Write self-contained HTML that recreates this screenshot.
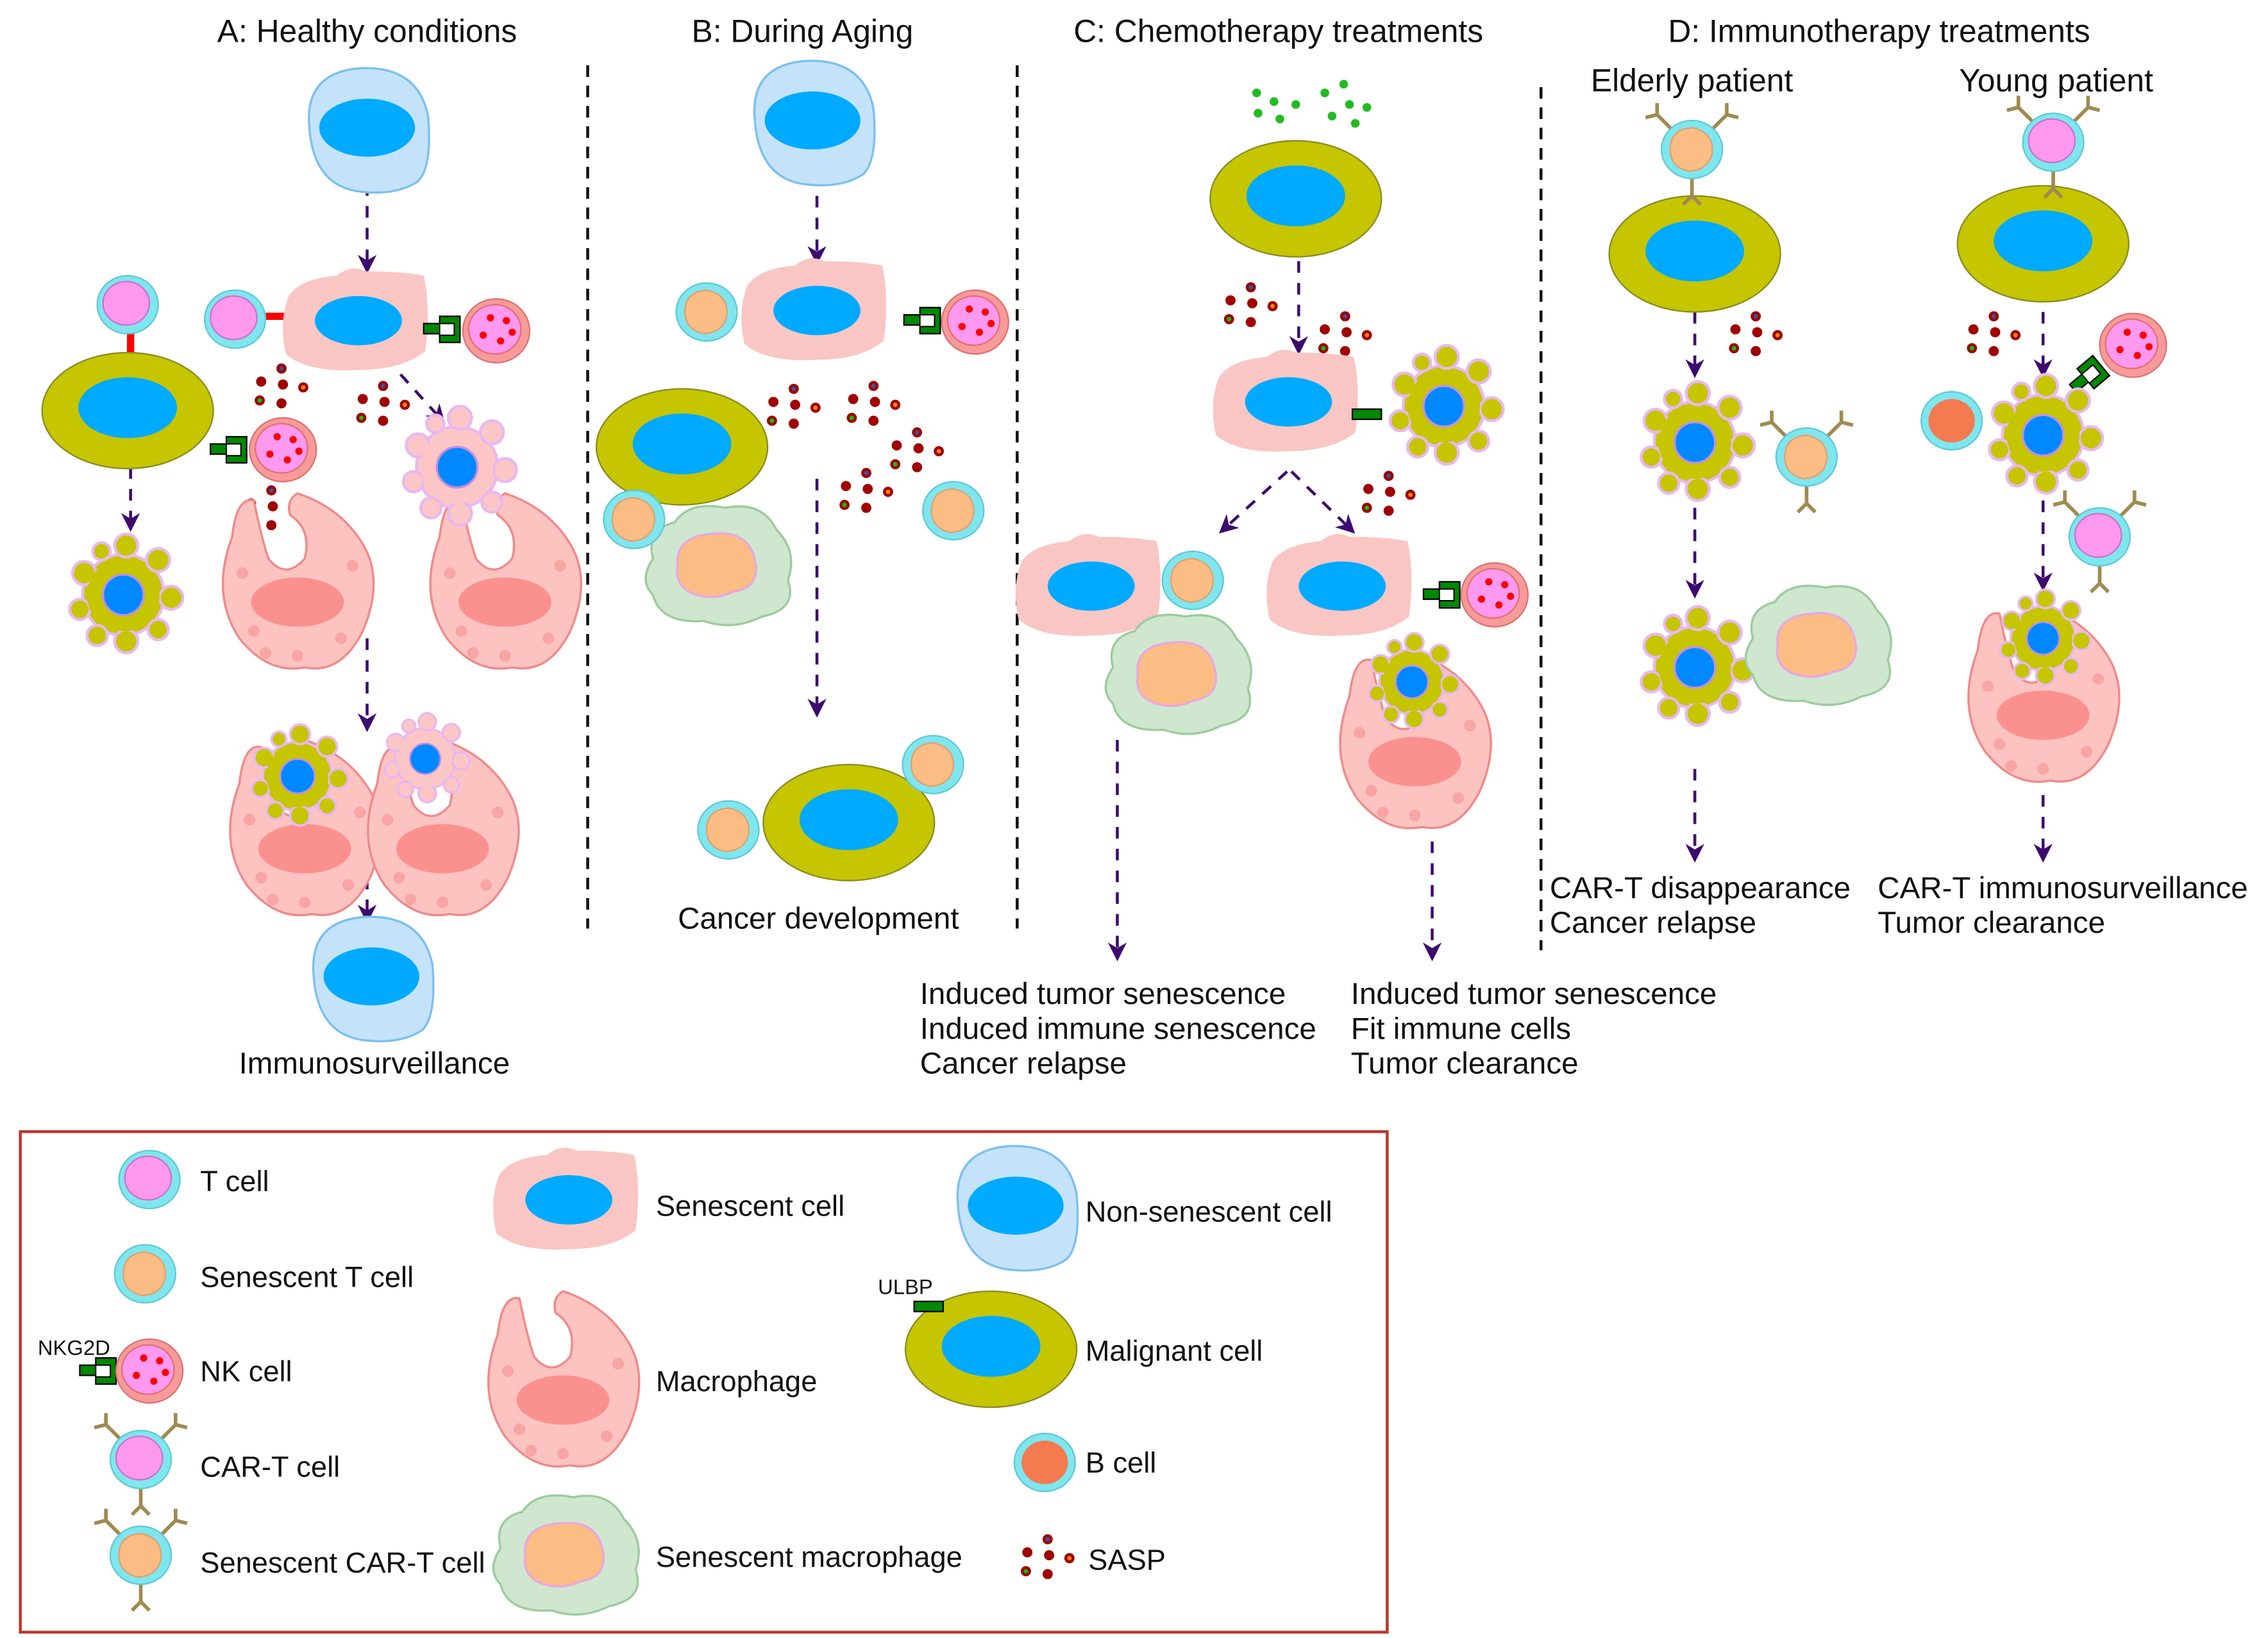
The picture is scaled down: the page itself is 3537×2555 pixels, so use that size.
<!DOCTYPE html>
<html><head><meta charset="utf-8"><style>
html,body{margin:0;padding:0;background:#fff}
svg{display:block}
text{font-family:"Liberation Sans",sans-serif;fill:#111}
</style></head><body>
<svg width="3537" height="2555" viewBox="0 0 1563 1129" xmlns="http://www.w3.org/2000/svg">
<defs>
<marker id="ah" viewBox="0 0 10 10" refX="8" refY="5" markerWidth="18" markerHeight="13" orient="auto" markerUnits="userSpaceOnUse"><path d="M0,0 L10,5 L0,10 L3,5 Z" fill="#3d0a6e"/></marker>
<g id="nonsen"><path d="M-40,-5 Q-42,-40 -5,-43 Q35,-45 42,-10 Q45,25 35,35 Q20,45 -5,42 Q-38,38 -40,-5Z" fill="#c4e3fb" stroke="#7cc0f0" stroke-width="1.5"/><ellipse cx="0" cy="-2" rx="33" ry="20" fill="#00aaff"/></g>
<g id="malig"><ellipse rx="59" ry="40" fill="#c5c500" stroke="#8a8a20" stroke-width="1"/><ellipse cx="0" cy="-2" rx="34" ry="21" fill="#00aaff"/></g>
<g id="sen"><path d="M-48,-18 Q-40,-30 -15,-32 Q-5,-40 5,-35 Q30,-35 45,-32 Q50,-10 46,20 Q30,33 0,33 Q-35,35 -50,22 Q-55,0 -48,-18Z" fill="#f9c6c3"/><ellipse cx="0" cy="-1" rx="30" ry="17" fill="#00aaff"/></g>
<g id="tc"><ellipse rx="21" ry="20" fill="#7fe6ee" stroke="#5fc8d8"/><ellipse cx="-1" cy="-1" rx="16" ry="15" fill="#ff99f0" stroke="#d070c8"/></g>
<g id="st"><ellipse rx="21" ry="20" fill="#7fe6ee" stroke="#5fc8d8"/><path d="M-15,0 Q-15,-14 0,-15 Q15,-12 14,2 Q12,14 -2,15 Q-15,12 -15,0Z" fill="#fbbd84" stroke="#e0a070"/></g>
<g id="bc"><ellipse rx="21" ry="20" fill="#7fe6ee" stroke="#5fc8d8"/><ellipse cx="0" cy="0" rx="16" ry="15" fill="#f47a50"/></g>
<g id="nk"><ellipse rx="23" ry="22" fill="#f79a9a" stroke="#e07070"/><ellipse cx="-1" cy="-1" rx="18" ry="17" fill="#ff99f0" stroke="#e07070"/><circle cx="-4" cy="-9" r="2.5" fill="#f00"/><circle cx="7" cy="-7" r="2.5" fill="#f00"/><circle cx="11" cy="1" r="2.5" fill="#f00"/><circle cx="-9" cy="3" r="2.5" fill="#f00"/><circle cx="3" cy="7" r="2.5" fill="#f00"/></g>
<g id="rec"><rect x="-25" y="-4" width="12" height="7" fill="#008800" stroke="#000" stroke-width="1"/><path d="M-14,-9 H0 V9 H-14 V4 H-4 V-4 H-14Z" fill="#008800" stroke="#000" stroke-width="1"/><rect x="-14" y="-4" width="10" height="8" fill="#fff" stroke="#000" stroke-width=".8"/></g>
<g id="apo"><g fill="#c5c500" stroke="#e8b8f0" stroke-width="2"><circle r="28"/><circle cx="-27" cy="-15" r="8"/><circle cx="-30" cy="10" r="7"/><circle cx="-18" cy="28" r="7"/><circle cx="2" cy="32" r="8"/><circle cx="24" cy="24" r="7"/><circle cx="33" cy="2" r="8"/><circle cx="24" cy="-24" r="8"/><circle cx="2" cy="-34" r="8"/><circle cx="-15" cy="-30" r="6"/></g><circle r="25" fill="#c5c500"/><circle r="14" fill="#0088ff" stroke="#c090e0" stroke-width="1.5"/></g>
<g id="apop"><g fill="#fcc6c6" stroke="#e8b8f0" stroke-width="2"><circle r="28"/><circle cx="-27" cy="-15" r="8"/><circle cx="-30" cy="10" r="7"/><circle cx="-18" cy="28" r="7"/><circle cx="2" cy="32" r="8"/><circle cx="24" cy="24" r="7"/><circle cx="33" cy="2" r="8"/><circle cx="24" cy="-24" r="8"/><circle cx="2" cy="-34" r="8"/><circle cx="-15" cy="-30" r="6"/></g><circle r="25" fill="#fcc6c6"/><circle r="14" fill="#0088ff" stroke="#c090e0" stroke-width="1.5"/></g>
<g id="mac"><path d="M-30,-55 Q-42,-58 -45,-30 Q-60,10 -40,40 Q-20,65 5,60 Q30,65 45,35 Q60,0 45,-25 Q30,-50 0,-60 Q-8,-55 -5,-45 Q10,-35 5,-15 Q-8,0 -20,-15 Q-25,-30 -30,-55Z" fill="#fcc3c1" stroke="#f08a88" stroke-width="1.5"/><ellipse cx="0" cy="15" rx="32" ry="17" fill="#fb918f"/><g fill="#f8a5a3"><circle cx="-38" cy="-5" r="4"/><circle cx="-30" cy="35" r="4"/><circle cx="38" cy="-10" r="4"/><circle cx="30" cy="40" r="4"/><circle cx="0" cy="52" r="4"/><circle cx="-22" cy="50" r="4"/></g></g>
<g id="smac"><path d="M-45,-5 Q-50,-25 -30,-30 Q-20,-45 5,-40 Q30,-45 40,-25 Q55,-10 48,10 Q55,30 30,35 Q10,45 -10,38 Q-40,40 -45,20 Q-55,10 -45,-5Z" fill="#cfe6cf" stroke="#9ccc9c" stroke-width="1.5"/><path d="M-28,0 Q-30,-20 -5,-22 Q20,-25 25,-5 Q30,15 10,18 Q-5,25 -20,18 Q-30,12 -28,0Z" fill="#fbbd84" stroke="#e8a8e0" stroke-width="1.5"/></g>
<g id="cart"><g stroke="#a08a50" stroke-width="2.5" fill="none"><path d="M-14,-14 L-24,-24 M-24,-24 L-32,-22 M-24,-24 L-24,-32 M14,-14 L24,-24 M24,-24 L32,-22 M24,-24 L24,-32 M0,20 L0,32 M0,32 L-6,38 M0,32 L6,38"/></g><use href="#tc"/></g>
<g id="scart"><g stroke="#a08a50" stroke-width="2.5" fill="none"><path d="M-14,-14 L-24,-24 M-24,-24 L-32,-22 M-24,-24 L-24,-32 M14,-14 L24,-24 M24,-24 L32,-22 M24,-24 L24,-32 M0,20 L0,32 M0,32 L-6,38 M0,32 L6,38"/></g><use href="#st"/></g>
<g id="sasp"><g fill="#a00000"><circle cx="2" cy="-14" r="3.5"/><circle cx="-12" cy="-5" r="3.5"/><circle cx="3" cy="-3" r="3.5"/><circle cx="2" cy="10" r="3.5"/><circle cx="17" cy="-1" r="3.5"/><circle cx="-13" cy="8" r="3.5"/></g><circle cx="-13" cy="8" r="1.5" fill="#0c0"/><circle cx="17" cy="-1" r="1.5" fill="#f80"/><circle cx="2" cy="-14" r="1.5" fill="#35a"/></g>
</defs>
<g font-size="22" text-anchor="middle">
<text x="253" y="29">A: Healthy conditions</text><text x="553" y="29">B: During Aging</text><text x="881" y="29">C: Chemotherapy treatments</text><text x="1295" y="29">D: Immunotherapy treatments</text>
<text x="1166" y="63">Elderly patient</text><text x="1417" y="63">Young patient</text>
</g>
<g stroke="#111" stroke-width="2" stroke-dasharray="8,6"><line x1="405" y1="45" x2="405" y2="640"/><line x1="701" y1="45" x2="701" y2="640"/><line x1="1062" y1="60" x2="1062" y2="655"/></g>
<g stroke="#3d0a6e" stroke-width="2" stroke-dasharray="8,7" marker-end="url(#ah)" fill="none">
<line x1="253" y1="127" x2="253" y2="186"/><line x1="90" y1="322" x2="90" y2="364"/><line x1="276" y1="258" x2="305" y2="290"/><line x1="253" y1="440" x2="253" y2="502"/><line x1="253" y1="605" x2="253" y2="634"/>
<line x1="563" y1="120" x2="563" y2="180"/><line x1="563" y1="330" x2="563" y2="492"/>
<line x1="895" y1="180" x2="895" y2="242"/><line x1="887" y1="325" x2="842" y2="366"/><line x1="890" y1="325" x2="932" y2="366"/><line x1="770" y1="510" x2="770" y2="660"/><line x1="987" y1="580" x2="987" y2="660"/>
<line x1="1168" y1="200" x2="1168" y2="258"/><line x1="1168" y1="350" x2="1168" y2="410"/><line x1="1168" y1="530" x2="1168" y2="592"/>
<line x1="1408" y1="200" x2="1408" y2="258"/><line x1="1408" y1="345" x2="1408" y2="405"/><line x1="1408" y1="548" x2="1408" y2="592"/>
</g>
<use href="#nonsen" x="253" y="90"/>
<line x1="180" y1="218" x2="202" y2="218" stroke="#f00" stroke-width="5"/>
<use href="#sen" x="247" y="222"/><use href="#tc" x="162" y="220"/>
<use href="#rec" x="317" y="227"/><use href="#nk" x="342" y="228"/>
<line x1="90" y1="230" x2="90" y2="250" stroke="#f00" stroke-width="5"/>
<use href="#malig" x="88" y="283"/><use href="#tc" x="88" y="210"/>
<use href="#rec" x="170" y="310"/><use href="#nk" x="195" y="310"/>
<use href="#apo" x="85" y="410"/>
<use href="#sasp" x="192" y="268"/><use href="#sasp" x="262" y="280"/><use href="#sasp" x="185" y="352"/>
<use href="#mac" x="205" y="400"/><use href="#mac" x="348" y="400"/><use href="#apop" x="315" y="322"/>
<use href="#mac" x="210" y="570"/><use href="#mac" x="305" y="570"/><use href="#apo" x="205" y="535" transform="translate(205 535) scale(.85) translate(-205 -535)"/><use href="#apop" x="293" y="523" transform="translate(293 523) scale(.75) translate(-293 -523)"/>
<use href="#nonsen" x="256" y="675"/>
<text x="258" y="740" font-size="21" text-anchor="middle">Immunosurveillance</text>
<use href="#nonsen" x="560" y="85"/>
<use href="#sen" x="563" y="215"/><use href="#st" x="487" y="215"/>
<use href="#rec" x="648" y="221"/><use href="#nk" x="672" y="222"/>
<use href="#malig" x="470" y="308"/>
<use href="#sasp" x="545" y="282"/><use href="#sasp" x="600" y="280"/><use href="#sasp" x="630" y="312"/><use href="#sasp" x="595" y="340"/>
<use href="#smac" x="495" y="390"/><use href="#st" x="437" y="358"/><use href="#st" x="657" y="352"/>
<use href="#malig" x="585" y="567"/><use href="#st" x="502" y="572"/><use href="#st" x="643" y="527"/>
<text x="564" y="640" font-size="21" text-anchor="middle">Cancer development</text>
<g fill="#22bb22"><circle cx="866" cy="64" r="3"/><circle cx="878" cy="70" r="3"/><circle cx="867" cy="78" r="3"/><circle cx="882" cy="82" r="3"/><circle cx="893" cy="72" r="3"/><circle cx="913" cy="64" r="3"/><circle cx="926" cy="58" r="3"/><circle cx="930" cy="72" r="3"/><circle cx="918" cy="80" r="3"/><circle cx="942" cy="74" r="3"/><circle cx="934" cy="85" r="3"/></g>
<use href="#malig" x="893" y="137"/>
<use href="#sasp" x="860" y="212"/><use href="#sasp" x="925" y="232"/><use href="#sasp" x="955" y="342"/>
<use href="#sen" x="888" y="278"/><rect x="932" y="282" width="20" height="7" fill="#008800" stroke="#000"/>
<use href="#apo" x="995" y="280"/>
<use href="#sen" x="752" y="405"/><use href="#st" x="822" y="400"/><use href="#smac" x="812" y="465"/>
<use href="#sen" x="925" y="405"/><use href="#rec" x="1006" y="410"/><use href="#nk" x="1030" y="410"/>
<use href="#mac" x="975" y="510"/><use href="#apo" x="973" y="470" transform="translate(973 470) scale(.8) translate(-973 -470)"/>
<g font-size="21"><text x="634" y="692">Induced tumor senescence</text><text x="634" y="716">Induced immune senescence</text><text x="634" y="740">Cancer relapse</text>
<text x="931" y="692">Induced tumor senescence</text><text x="931" y="716">Fit immune cells</text><text x="931" y="740">Tumor clearance</text></g>
<use href="#malig" x="1168" y="175"/><use href="#scart" x="1166" y="103"/>
<use href="#sasp" x="1208" y="232"/>
<use href="#apo" x="1168" y="305"/><use href="#scart" x="1245" y="315"/>
<use href="#apo" x="1168" y="460"/><use href="#smac" x="1253" y="445"/>
<use href="#malig" x="1408" y="168"/><use href="#cart" x="1415" y="98"/>
<use href="#sasp" x="1372" y="232"/>
<use href="#nk" x="1470" y="238"/><use href="#rec" x="1448" y="252" transform="rotate(-40 1448 252)"/>
<use href="#bc" x="1345" y="290"/><use href="#apo" x="1408" y="300"/><use href="#cart" x="1447" y="370"/>
<use href="#mac" x="1408" y="478"/><use href="#apo" x="1408" y="440" transform="translate(1408 440) scale(.8) translate(-1408 -440)"/>
<g font-size="21"><text x="1068" y="619">CAR-T disappearance</text><text x="1068" y="643">Cancer relapse</text><text x="1294" y="619">CAR-T immunosurveillance</text><text x="1294" y="643">Tumor clearance</text></g>
<rect x="14" y="780" width="942" height="345" fill="none" stroke="#b83a2a" stroke-width="2"/>
<use href="#tc" x="103" y="813"/><use href="#st" x="100" y="878"/><use href="#rec" x="80" y="945"/><use href="#nk" x="103" y="945"/><use href="#cart" x="97" y="1006"/><use href="#scart" x="97" y="1072"/>
<use href="#sen" x="392" y="828"/><use href="#mac" x="388" y="950"/><use href="#smac" x="390" y="1072"/>
<use href="#nonsen" x="700" y="833"/><use href="#malig" x="683" y="930"/><rect x="630" y="897" width="20" height="7" fill="#008800" stroke="#000"/><use href="#bc" x="720" y="1008"/><use href="#sasp" x="720" y="1075"/>
<g font-size="20"><text x="138" y="821">T cell</text><text x="138" y="887">Senescent T cell</text><text x="138" y="952">NK cell</text><text x="138" y="1018">CAR-T cell</text><text x="138" y="1084">Senescent CAR-T cell</text>
<text x="452" y="838">Senescent cell</text><text x="452" y="959">Macrophage</text><text x="452" y="1080">Senescent macrophage</text>
<text x="748" y="842">Non-senescent cell</text><text x="748" y="938">Malignant cell</text><text x="748" y="1015">B cell</text><text x="750" y="1082">SASP</text></g>
<text x="26" y="934" font-size="14.5">NKG2D</text><text x="605" y="892" font-size="14.5">ULBP</text>
</svg>
</body></html>
